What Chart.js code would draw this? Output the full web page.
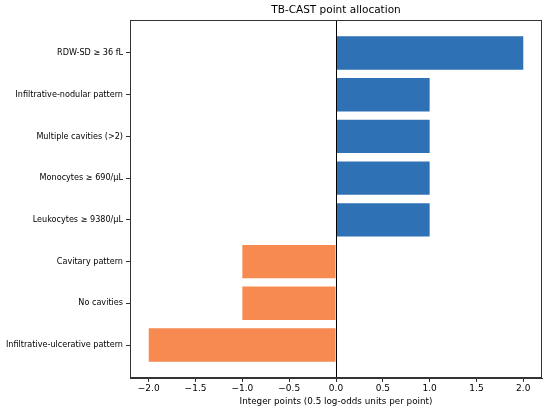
<!DOCTYPE html>
<html>
<head>
<meta charset="utf-8">
<script src="https://cdn.jsdelivr.net/npm/chart.js@4"></script>
<style>
html,body{margin:0;padding:0;background:#fff;}
#wrap{width:550px;height:412px;}
</style>
</head>
<body>
<div id="wrap"><canvas id="c"></canvas></div>
<script>
const categories = [
  "RDW-SD \u2265 36 fL",
  "Infiltrative-nodular pattern",
  "Multiple cavities (>2)",
  "Monocytes \u2265 690/\u03bcL",
  "Leukocytes \u2265 9380/\u03bcL",
  "Cavitary pattern",
  "No cavities",
  "Infiltrative-ulcerative pattern"
];
const points = [2, 1, 1, 1, 1, -1, -1, -2];
const xTicks = [-2, -1.5, -1, -0.5, 0, 0.5, 1, 1.5, 2];
const chartTitle = 'TB-CAST point allocation';

const BLUE = '#2f71b5';
const ORANGE = '#f68a50';
const FONT = "'DejaVu Sans', sans-serif";

const barData = points.map((v, i) => ({ x: v, y: i }));
const barColors = points.map(v => v >= 0 ? BLUE : ORANGE);

const framePlugin = {
  id: 'frame',
  afterDatasetsDraw(chart) {
    const { ctx, chartArea: a, scales } = chart;
    ctx.save();
    const x0 = Math.round(scales.x.getPixelForValue(0)) + 0.5;
    ctx.strokeStyle = '#000';
    ctx.lineWidth = 1;
    ctx.beginPath();
    ctx.moveTo(x0, a.top);
    ctx.lineTo(x0, a.bottom);
    ctx.stroke();
    ctx.strokeStyle = '#333';
    ctx.lineWidth = 1;
    ctx.strokeRect(Math.round(a.left) + 0.5, Math.round(a.top) + 0.5,
                   Math.round(a.right - a.left) - 1, Math.round(a.bottom - a.top) - 1);
    ctx.fillStyle = '#000';
    ctx.font = "10.5px 'DejaVu Sans', sans-serif";
    ctx.textAlign = 'center';
    ctx.textBaseline = 'middle';
    ctx.fillText(chartTitle, (a.left + a.right) / 2, 10.5);
    ctx.restore();
  }
};

new Chart(document.getElementById('c'), {
  type: 'bar',
  data: {
    datasets: [{
      data: barData,
      backgroundColor: barColors,
      borderWidth: 0,
      barPercentage: 0.8,
      categoryPercentage: 1.0
    }]
  },
  options: {
    indexAxis: 'y',
    responsive: true,
    maintainAspectRatio: false,
    animation: false,
    layout: { padding: { left: 0, right: 8, top: 20, bottom: 5 } },
    plugins: {
      legend: { display: false },
      tooltip: { enabled: false },
      title: { display: false }
    },
    scales: {
      x: {
        type: 'linear',
        min: -2.2,
        max: 2.2,
        offset: false,
        afterBuildTicks(scale) { scale.ticks = xTicks.map(v => ({ value: v })); },
        afterFit(scale) { scale.height = 29; },
        ticks: {
          color: '#000',
          font: { family: FONT, size: 9 },
          padding: 1,
          maxRotation: 0,
          callback: v => Number(v).toFixed(1).replace('-', '\u2212')
        },
        grid: { display: true, offset: false, drawOnChartArea: false, drawTicks: true, tickLength: 4, color: '#333' },
        border: { display: true, color: '#333' },
        title: {
          display: true,
          text: 'Integer points (0.5 log-odds units per point)',
          color: '#000',
          font: { family: FONT, size: 8.8 },
          padding: { top: 0, bottom: 0 }
        }
      },
      y: {
        type: 'linear',
        reverse: true,
        min: -0.79,
        max: 7.79,
        offset: false,
        afterBuildTicks(scale) { scale.ticks = categories.map((c, i) => ({ value: i })); },
        afterFit(scale) { scale.width = 130; },
        ticks: {
          color: '#000',
          font: { family: FONT, size: 8.1 },
          padding: 3,
          callback: v => categories[v]
        },
        grid: { display: true, offset: false, drawOnChartArea: false, drawTicks: true, tickLength: 4, color: '#333' },
        border: { display: true, color: '#333' }
      }
    }
  },
  plugins: [framePlugin]
});
</script>
</body>
</html>
